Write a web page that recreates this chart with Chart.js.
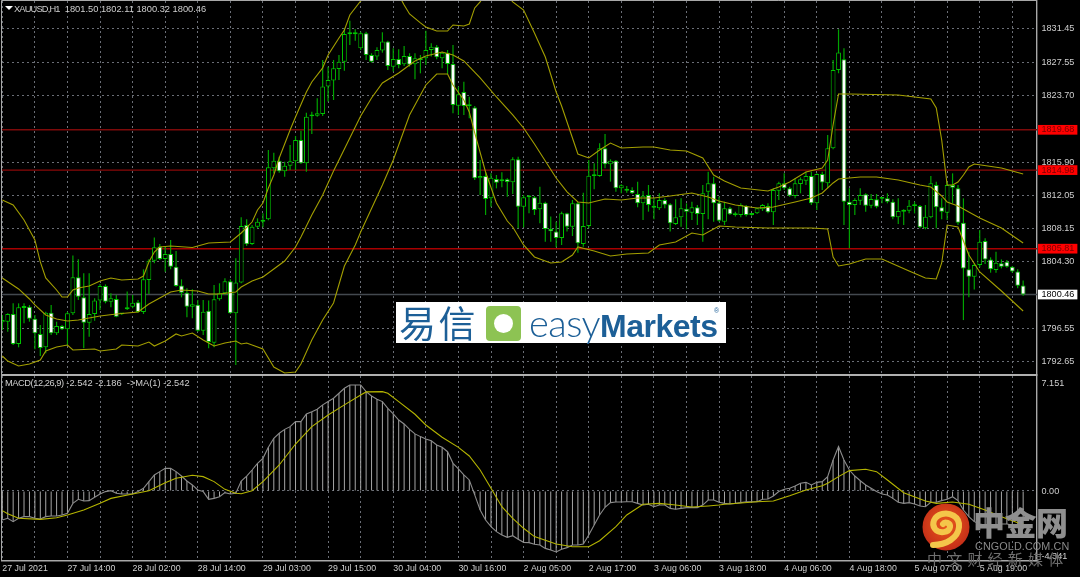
<!DOCTYPE html>
<html><head><meta charset="utf-8">
<style>
html,body{margin:0;padding:0;background:#000;width:1080px;height:577px;overflow:hidden}
#c{position:absolute;left:0;top:0;filter:blur(.3px)}
.t{position:absolute;white-space:pre;font-family:"Liberation Sans",sans-serif}
</style>
<script src="https://cdn.jsdelivr.net/npm/chart.js@4"></script>
</head><body>
<canvas id="c" width="1080" height="577"></canvas>

<div class="t" style="left:5px;top:6px;width:0;height:0;border-left:4.5px solid transparent;border-right:4.5px solid transparent;border-top:4px solid #fff"></div>
<div class="t" style="left:14px;top:3px;font-size:9.3px;line-height:12px;color:#cfcfcf"><span style="letter-spacing:-.85px">XAUUSD,H1</span>  1801.50 1802.11 1800.32 1800.46</div>
<div class="t" style="left:5px;top:377px;font-size:9.3px;line-height:12px;color:#cfcfcf"><span style="letter-spacing:-.45px">MACD(12,26,9)</span> -2.542 -2.186  -&gt;MA(1) -2.542</div>

<div style="position:absolute;left:396px;top:302px;width:330px;height:41px;background:#fff;filter:blur(.3px)">
  <div class="t" style="left:3px;top:-3px;font-family:'Noto Sans CJK SC';font-size:37px;line-height:46px;color:#1c5f97;font-weight:400;letter-spacing:2.500px">易信</div>
  <div style="position:absolute;left:90px;top:4px;width:35px;height:35px;border-radius:4px;background:#8dc353"></div>
  <div style="position:absolute;left:98px;top:12px;width:19px;height:19px;border-radius:50%;background:#fff"></div>
  <div class="t" style="left:133px;top:0;font-family:'Liberation Sans';font-size:32px;line-height:41px;color:#1c5f97;letter-spacing:-.5px"><span style="font-family:Lato;font-weight:300;font-size:38px">easy</span><b style="font-weight:700;font-family:'Liberation Sans'">Markets</b></div>
  <div class="t" style="left:318px;top:5px;font-size:7px;line-height:8px;color:#1c5f97">®</div>
</div>

<svg style="position:absolute;left:922px;top:503px;filter:blur(.3px)" width="48" height="48" viewBox="0 0 48 48">
  <defs><radialGradient id="g" cx=".5" cy=".45" r=".55"><stop offset="0" stop-color="#ea5a1c"/><stop offset="1" stop-color="#c42e18"/></radialGradient></defs>
  <circle cx="24" cy="24" r="23.5" fill="url(#g)"/>
  <path d="M11 42 C24 42 36 35 37 24 C38 13 27 9 20 11 C12 13 9 21 13 26 C17 31 27 30 28 24 C28.500 20 23 18 21 21" fill="none" stroke="#f4c64a" stroke-width="6" stroke-linecap="round"/>
</svg>
<div class="t" style="left:973px;top:500px;font-family:'Noto Sans CJK SC';font-weight:900;font-size:32px;line-height:42px;color:#8f8f8f;letter-spacing:-.5px">中金网</div>
<div class="t" style="left:975px;top:539px;font-size:10.800px;line-height:14px;color:#8a8a8a;letter-spacing:.1px">CNGOLD.COM.CN</div>
<div class="t" style="left:927px;top:550px;font-family:'Noto Sans CJK SC';font-size:15px;line-height:18px;color:#6f6f6f;letter-spacing:5.2px">中文财经新媒体</div>

<script>
const opens=[
1797.22,1797.29,1798.19,1794.69,1798.89,1799.04,1797.64,1795.86,1794.30,1798.34,
1795.93,1796.79,1796.40,1798.27,1802.47,1800.13,1797.18,1798.19,1799.75,1801.46,
1799.63,1799.94,1798.23,1798.73,1799.04,1799.55,1798.42,1802.16,1804.41,1806.05,
1804.61,1805.19,1803.71,1801.50,1800.68,1799.04,1799.28,1796.24,1798.58,1794.84,
1799.90,1800.60,1802.00,1798.27,1801.85,1808.58,1806.36,1808.38,1808.96,1809.24,
1815.19,1816.08,1814.84,1815.50,1816.00,1818.49,1815.77,1821.25,1821.33,1821.53,
1824.72,1825.42,1826.78,1827.63,1830.84,1830.84,1829.19,1830.94,1828.41,1828.22,
1828.92,1829.97,1827.05,1827.94,1827.32,1828.29,1827.32,1827.83,1828.02,1828.99,
1829.38,1828.02,1828.68,1827.36,1822.50,1824.09,1822.54,1822.27,1814.02,1814.29,
1811.69,1813.94,1813.67,1813.90,1813.55,1816.24,1810.71,1811.80,1811.80,1810.40,
1811.18,1808.11,1807.80,1807.06,1809.93,1808.38,1811.10,1806.36,1808.46,1814.29,
1814.29,1817.52,1815.65,1816.08,1812.85,1812.74,1812.66,1812.19,1811.10,1812.07,
1810.79,1810.52,1811.49,1810.99,1808.69,1809.47,1810.48,1810.01,1810.64,1809.86,
1812.46,1813.44,1811.18,1808.96,1810.52,1809.82,1809.74,1810.79,1809.75,1809.93,
1810.40,1810.79,1810.05,1812.58,1813.43,1812.85,1811.96,1813.36,1813.75,1814.30,
1811.10,1814.53,1813.44,1817.52,1826.66,1827.91,1811.29,1810.91,1811.41,1812.15,
1810.83,1811.57,1811.64,1811.68,1811.29,1809.47,1810.25,1810.25,1810.79,1810.79,
1808.18,1809.47,1813.24,1810.63,1810.01,1813.24,1812.85,1808.84,1803.40,1802.54,
1803.90,1806.70,1804.56,1803.32,1804.10,1804.29,1803.71,1803.16,1801.50];
const closes=[
1797.49,1798.19,1794.69,1798.97,1799.12,1797.64,1795.93,1794.22,1798.34,1795.93,
1796.79,1796.40,1798.27,1802.47,1800.21,1797.18,1798.19,1799.75,1801.46,1799.63,
1800.02,1797.88,1798.15,1798.97,1799.51,1798.42,1802.23,1804.41,1805.97,1804.61,
1805.19,1803.71,1801.46,1800.68,1799.04,1799.32,1796.24,1798.46,1794.92,1799.90,
1800.60,1802.00,1798.27,1801.85,1808.46,1806.32,1808.38,1808.96,1809.12,1815.31,
1816.08,1814.84,1815.50,1816.00,1818.49,1815.77,1821.21,1821.33,1821.60,1824.72,
1825.49,1826.86,1827.63,1830.86,1830.88,1830.90,1830.94,1828.41,1827.63,1828.99,
1829.97,1827.13,1827.94,1827.24,1828.29,1827.28,1828.02,1827.94,1828.99,1829.38,
1828.14,1828.68,1827.36,1822.58,1823.82,1822.46,1822.46,1814.02,1814.29,1811.61,
1814.10,1813.51,1813.90,1813.59,1816.24,1810.71,1811.80,1811.96,1810.32,1811.18,
1808.11,1807.83,1807.06,1809.93,1808.38,1811.10,1806.43,1808.46,1814.33,1814.41,
1817.52,1815.65,1816.08,1812.85,1813.20,1812.58,1812.27,1811.10,1812.00,1810.91,
1810.60,1811.49,1810.95,1808.77,1809.47,1810.52,1810.13,1810.64,1809.86,1812.27,
1813.44,1811.10,1809.08,1810.52,1809.82,1809.74,1810.91,1809.74,1809.80,1810.52,
1810.91,1810.05,1812.66,1813.43,1812.85,1811.99,1813.43,1813.90,1814.30,1811.10,
1814.53,1813.52,1817.52,1826.66,1828.69,1811.30,1810.91,1811.49,1812.07,1810.83,
1811.61,1810.71,1811.68,1811.29,1809.47,1810.21,1810.13,1810.83,1810.83,1808.30,
1809.54,1813.43,1810.63,1810.13,1813.24,1812.93,1808.84,1803.51,1802.54,1803.90,
1806.63,1804.56,1803.40,1804.18,1803.71,1803.71,1803.16,1801.49,1800.46];
const highs=[
1798.07,1798.27,1799.43,1799.43,1799.43,1799.24,1798.07,1796.91,1798.46,1799.24,
1797.29,1796.91,1798.46,1805.00,1804.57,1802.93,1802.93,1800.02,1801.69,1801.65,
1800.60,1800.41,1798.27,1800.80,1800.41,1799.82,1803.40,1804.57,1807.10,1806.36,
1806.05,1806.82,1805.54,1802.23,1801.18,1801.07,1799.82,1799.82,1799.75,1801.57,
1801.77,1802.35,1802.23,1804.69,1809.47,1809.24,1808.58,1809.35,1809.94,1817.33,
1817.01,1816.55,1815.96,1817.91,1818.96,1819.58,1821.68,1821.80,1823.35,1827.83,
1827.05,1827.83,1828.41,1831.52,1832.42,1831.41,1831.13,1831.13,1828.61,1829.31,
1831.06,1830.08,1829.19,1829.07,1829.46,1828.61,1828.61,1828.41,1831.25,1829.77,
1829.58,1828.80,1828.99,1829.58,1824.72,1825.30,1823.55,1822.46,1816.16,1814.80,
1814.60,1814.41,1814.72,1814.02,1816.47,1816.55,1812.07,1812.07,1811.96,1813.05,
1811.30,1809.55,1808.96,1810.13,1810.01,1811.49,1811.30,1812.35,1816.16,1815.77,
1818.10,1819.19,1816.24,1816.16,1813.32,1813.12,1812.97,1813.63,1812.54,1813.24,
1811.69,1812.27,1811.69,1811.10,1811.57,1811.69,1811.10,1811.30,1810.91,1813.24,
1814.80,1814.21,1811.88,1811.29,1810.71,1810.13,1811.10,1810.91,1809.86,1810.59,
1811.02,1811.10,1812.85,1813.63,1814.60,1813.04,1814.02,1814.13,1814.80,1814.80,
1814.61,1814.80,1819.08,1827.83,1831.41,1829.19,1812.85,1811.68,1812.85,1812.27,
1812.19,1812.19,1811.80,1812.27,1811.57,1811.68,1810.40,1811.49,1811.29,1810.91,
1810.91,1814.29,1813.63,1811.68,1813.63,1814.60,1813.24,1811.68,1805.46,1804.10,
1807.99,1807.02,1804.80,1805.46,1804.56,1804.49,1803.79,1803.40,1802.11];
const lows=[
1796.32,1796.13,1794.57,1794.30,1797.10,1797.29,1794.07,1793.29,1793.60,1795.74,
1795.74,1796.32,1794.57,1798.07,1799.82,1794.18,1795.54,1797.41,1798.66,1799.43,
1798.97,1797.80,1798.07,1798.66,1798.85,1798.34,1798.19,1800.52,1804.10,1804.49,
1803.13,1803.40,1801.38,1800.13,1797.80,1797.68,1796.13,1795.74,1794.18,1794.30,
1799.75,1800.41,1798.19,1792.24,1801.77,1806.12,1806.24,1808.19,1808.30,1809.12,
1814.60,1814.68,1814.21,1814.99,1814.99,1815.69,1814.80,1819.19,1821.21,1821.29,
1822.97,1823.16,1825.49,1826.58,1829.58,1830.08,1828.99,1827.83,1827.52,1827.83,
1828.68,1826.66,1826.47,1826.86,1827.13,1827.05,1825.57,1826.27,1827.24,1828.22,
1827.91,1826.86,1826.19,1821.60,1821.41,1821.41,1821.02,1813.82,1812.07,1809.74,
1810.71,1812.85,1812.97,1811.88,1812.19,1808.18,1808.30,1809.93,1809.74,1808.77,
1806.63,1806.63,1805.97,1806.24,1807.80,1807.29,1805.34,1806.04,1808.18,1812.74,
1814.21,1815.19,1813.63,1812.46,1812.27,1812.35,1812.19,1810.64,1809.16,1810.13,
1809.23,1810.32,1810.52,1807.80,1808.57,1808.38,1808.07,1809.16,1808.57,1806.63,
1809.23,1808.96,1808.96,1808.57,1809.74,1809.55,1809.47,1809.55,1809.66,1809.86,
1810.21,1809.93,1808.57,1811.49,1812.66,1811.88,1811.68,1812.27,1813.24,1810.91,
1810.33,1812.66,1812.86,1817.41,1826.28,1808.58,1805.85,1809.74,1810.91,1810.13,
1810.52,1810.52,1811.10,1811.10,1809.23,1808.69,1808.57,1809.93,1809.93,1808.18,
1808.07,1809.35,1808.18,1809.23,1809.15,1811.10,1808.57,1797.48,1800.13,1801.06,
1803.63,1804.02,1803.01,1803.01,1803.51,1803.59,1803.01,1801.18,1800.32];

const upperBars=[0,2,4,6,7,8,10,11,12,13,14,16,18,20,22,25,26,27,28,29,31,35,38,42,44,46,47,48,49,50,51,53,54,56,57,59,60,62,63,64,66,68,70,72,74,75,77,78,80,82,83,85,86,87,88,89,92,94,96,98,100,102,103,105,106,108,110,112,114,118,120,123,126,129,131,133,136,141,143,145,148,151,152,153,154,156,165,171,172,173,174,175,176,177,178,179,184,188];
const upperBand=[1811.49,1810.91,1809.16,1806.83,1804.26,1802.39,1800.99,1800.17,1800.17,1800.99,1801.22,1801.46,1802.04,1802.39,1802.16,1802.27,1802.62,1804.26,1805.42,1806.01,1806.12,1805.95,1806.47,1806.59,1807.64,1808.92,1810.32,1811.14,1812.89,1814.41,1816.39,1819.66,1821.18,1824.09,1825.26,1826.90,1828.41,1830.40,1831.33,1833.08,1834.71,1836.00,1836.70,1836.58,1834.25,1833.20,1832.15,1831.68,1831.21,1831.21,1831.91,1831.80,1832.03,1833.90,1834.60,1835.76,1836.23,1834.60,1833.66,1830.98,1828.18,1824.09,1822.46,1818.73,1816.86,1816.39,1817.33,1818.14,1817.56,1817.68,1817.68,1817.33,1817.21,1816.39,1814.41,1813.71,1812.89,1812.54,1813.01,1813.59,1814.76,1815.23,1816.16,1820.24,1823.86,1823.86,1823.74,1823.28,1822.23,1818.49,1813.24,1813.24,1813.59,1814.41,1815.34,1815.69,1815.23,1814.53];
const middleBars=[0,3,5,6,8,10,12,14,18,21,25,27,29,31,33,36,38,40,43,44,46,48,50,52,54,55,57,59,61,64,66,68,70,73,76,78,81,83,85,88,91,94,96,98,102,104,106,108,111,114,117,120,123,127,130,132,135,139,142,146,149,151,153,154,158,161,165,169,171,173,174,176,180,184,188];
const middleBand=[1802.39,1801.11,1799.94,1799.24,1798.07,1797.61,1797.37,1797.49,1797.96,1798.19,1798.42,1799.36,1800.06,1800.76,1800.99,1800.87,1800.52,1800.52,1800.76,1801.34,1802.04,1802.51,1803.44,1804.37,1806.01,1807.17,1809.74,1812.08,1814.88,1818.73,1821.29,1823.39,1825.14,1826.31,1827.71,1828.30,1828.76,1828.41,1827.71,1825.73,1823.51,1821.41,1819.89,1818.03,1814.06,1812.43,1811.26,1811.14,1811.61,1811.49,1811.73,1811.73,1811.96,1812.31,1811.84,1811.38,1810.91,1810.56,1810.68,1811.26,1811.73,1812.31,1813.48,1813.94,1814.18,1814.18,1813.83,1813.24,1813.01,1811.96,1811.26,1810.79,1809.39,1808.22,1806.47];
const lowerBars=[0,1,3,5,7,8,10,12,13,17,18,21,22,25,27,28,30,32,33,35,37,39,41,43,44,45,48,50,52,54,55,57,59,61,63,65,66,70,72,74,75,78,80,82,83,85,86,87,89,91,93,94,96,98,101,103,105,106,109,112,115,119,121,124,127,129,132,135,141,149,152,153,154,156,159,162,167,170,172,173,174,176,178,180,184,188];
const lowerBand=[1793.29,1792.70,1792.12,1792.35,1792.82,1793.87,1794.34,1794.57,1793.99,1794.10,1793.87,1794.10,1794.57,1794.45,1794.92,1794.45,1795.04,1795.86,1795.62,1795.97,1795.16,1794.45,1794.80,1795.04,1794.69,1794.80,1794.10,1792.00,1791.30,1791.42,1792.35,1795.16,1797.49,1799.47,1803.79,1806.24,1807.76,1813.24,1816.16,1819.66,1821.41,1824.91,1826.19,1826.19,1824.91,1823.16,1821.76,1819.31,1814.76,1811.14,1809.04,1808.34,1806.24,1804.84,1804.14,1804.26,1805.07,1806.01,1805.54,1804.96,1805.19,1805.31,1806.24,1806.59,1807.64,1807.41,1808.46,1808.34,1808.22,1808.22,1808.11,1804.84,1803.79,1804.02,1804.61,1804.61,1803.21,1802.39,1802.27,1804.14,1808.57,1808.34,1805.07,1803.09,1800.87,1798.54];

const macd=[
-1.92,-1.81,-2.03,-1.81,-1.70,-1.70,-1.81,-1.85,-1.70,-1.66,
-1.66,-1.59,-1.48,-.82,-.55,-.66,-.64,-.42,-.20,-.04,
.02,-.15,-.20,-.20,-.20,-.04,.18,.62,1.06,1.28,
1.50,1.50,1.28,.99,.66,.40,.07,-.04,-.55,-.49,
-.38,-.11,-.20,-.15,.66,.99,1.39,1.83,2.16,2.89,
3.49,3.82,4.08,4.26,4.59,4.59,5.10,5.25,5.41,5.70,
5.92,6.14,6.47,6.80,7.02,7.02,7.02,6.58,6.29,6.07,
5.92,5.47,5.10,4.70,4.44,4.08,3.78,3.60,3.44,3.33,
3.05,2.89,2.60,1.83,1.46,1.06,.73,-.26,-1.26,-1.92,
-2.36,-2.69,-2.91,-3.07,-2.96,-3.20,-3.40,-3.42,-3.53,-3.58,
-3.80,-3.91,-4.04,-3.86,-3.75,-3.58,-3.58,-3.51,-2.91,-2.25,
-1.59,-1.08,-.77,-.73,-.73,-.71,-.71,-.82,-.93,-.88,
-1.04,-.93,-.93,-1.15,-1.21,-1.15,-1.10,-1.10,-1.10,-.93,
-.60,-.60,-.75,-.82,-.86,-.82,-.77,-.71,-.71,-.71,
-.55,-.53,-.33,-.04,.11,.18,.33,.51,.57,.40,
.57,.62,.95,2.05,2.94,2.05,1.39,.99,.68,.40,
.18,-.04,-.20,-.26,-.49,-.75,-.82,-.77,-.86,-.99,
-1.04,-.75,-.75,-.64,-.55,-.38,-.64,-1.26,-1.70,-2.03,
-2.19,-2.25,-2.25,-2.25,-2.19,-2.19,-2.25,-2.41,-2.54];
const signalBars=[0,1,3,7,10,12,15,18,20,24,27,30,32,35,37,39,41,43,44,46,48,51,54,57,60,63,66,67,70,71,73,76,78,81,84,86,88,90,92,94,96,98,102,105,108,110,113,115,118,121,124,127,130,132,133,136,139,142,145,148,151,152,154,156,159,161,163,166,170,172,175,178,181,184,187,188];
const signalLine=[-1.30,-1.50,-1.81,-1.88,-1.77,-1.59,-1.26,-.82,-.49,-.20,.02,.55,.84,1.04,.95,.62,.11,-.15,-.18,.02,.62,1.72,3.11,4.26,5.03,5.70,6.36,6.56,6.58,6.47,5.92,5.08,4.37,3.56,2.89,2.32,1.39,.18,-1.04,-1.81,-2.47,-3.02,-3.51,-3.69,-3.69,-3.29,-2.36,-1.59,-.88,-.82,-.93,-1.06,-.99,-.93,-.88,-.80,-.71,-.66,-.31,.07,.35,.51,.95,1.35,1.44,1.28,.73,-.11,-.66,-.82,-.73,-.88,-1.26,-1.70,-2.10,-2.19];

const priceTicks=[1831.45,1827.55,1823.70,1819.80,1815.90,1812.05,1808.15,1804.30,1800.45,1796.55,1792.65];
const levelTags=[1819.68,1814.98,1805.81];
const lastPrice=1800.46;
const macdTicks=[7.151,0,-4.341];
const timeLabels=["27 Jul 2021","27 Jul 14:00","28 Jul 02:00","28 Jul 14:00","29 Jul 03:00","29 Jul 15:00","30 Jul 04:00","30 Jul 16:00","2 Aug 05:00","2 Aug 17:00","3 Aug 06:00","3 Aug 18:00","4 Aug 06:00","4 Aug 18:00","5 Aug 07:00","5 Aug 19:00"];
const gridBars=[0,6,12,18,24,30,36,42,48,54,60,66,72,78,84,90,96,102,108,114,120,126,132,138,144,150,156,162,168,174,180,186];

const X_MIN=-0.055, X_MAX=190.55;
const pts=(b,v)=>b.map((x,i)=>({x,y:v[i]}));
const GREEN='#00a400', EDGE='#00c400', GRID='#6a6e76', TXT='#cfcfcf', FONT='"Liberation Sans",sans-serif';
const bars=opens.map((_,i)=>i);
const lineDS=(data,color,yAxisID,order,w)=>({type:'line',data,borderColor:color,borderWidth:w||1.1,pointRadius:0,tension:0,yAxisID,xAxisID:'x',order});
const hiddenTick=v=>v===1819.80||v===1800.45;
const noPad=s=>{s.paddingTop=0;s.paddingBottom=0;s.paddingLeft=0;s.paddingRight=0;};

const frame={id:'frame',afterDraw(ch){
  const c=ch.ctx,a=ch.chartArea,y=ch.scales.y;
  c.save();c.strokeStyle='#a8a8a8';c.lineWidth=1;
  c.beginPath();c.moveTo(a.left-.5,a.bottom);c.lineTo(a.left-.5,a.top-.5);c.lineTo(a.right,a.top-.5);c.stroke();
  c.strokeStyle='#b0b0b0';c.lineWidth=2.2;
  c.beginPath();c.moveTo(a.left,y.bottom);c.lineTo(a.right,y.bottom);c.stroke();
  c.restore();
}};

new Chart(document.getElementById('c'),{
  type:'bar',
  plugins:[frame],
  data:{datasets:[
    lineDS(pts(upperBars,upperBand),'#a39f00','y',0),
    lineDS(pts(middleBars,middleBand),'#a39f00','y',0),
    lineDS(pts(lowerBars,lowerBand),'#a39f00','y',0),
    {label:'bodies',data:bars.map(i=>({x:i,y:[opens[i],closes[i]]})),barThickness:4.8,borderWidth:1,minBarLength:1.8,grouped:false,inflateAmount:0,
     borderSkipped:false,borderColor:EDGE,backgroundColor:c=>closes[c.dataIndex]<opens[c.dataIndex]?'#ffffff':'#000000',yAxisID:'y',xAxisID:'x',order:1},
    {label:'wicks',data:bars.map(i=>({x:i,y:[lows[i],highs[i]]})),barThickness:1.2,borderWidth:0,grouped:false,inflateAmount:0,backgroundColor:GREEN,yAxisID:'y',xAxisID:'x',order:2},
    lineDS([{x:X_MIN,y:levelTags[0]},{x:X_MAX,y:levelTags[0]}],'#7d0a0a','y',3,1.4),
    lineDS([{x:X_MIN,y:levelTags[1]},{x:X_MAX,y:levelTags[1]}],'#8a0808','y',3,1.4),
    lineDS([{x:X_MIN,y:levelTags[2]},{x:X_MAX,y:levelTags[2]}],'#a80000','y',3,1.4),
    lineDS([{x:X_MIN,y:lastPrice},{x:X_MAX,y:lastPrice}],'#43494f','y',3,1.4),
    lineDS(pts(bars,macd),'#8c8c8c','y2',1),
    lineDS(pts(signalBars,signalLine),'#b4b400','y2',0),
    {label:'hist',data:bars.map(i=>({x:i,y:macd[i]})),barThickness:1,borderWidth:0,grouped:false,inflateAmount:0,backgroundColor:'#a6a6a6',yAxisID:'y2',xAxisID:'x',order:2}
  ]},
  options:{
    responsive:false,animation:false,devicePixelRatio:1,
    layout:{padding:{left:2,top:1,right:0,bottom:0}},
    plugins:{legend:{display:false},tooltip:{enabled:false}},
    scales:{
      x:{type:'linear',position:'bottom',min:X_MIN,max:X_MAX,offset:false,
        afterBuildTicks:s=>{s.ticks=gridBars.map(value=>({value}));},
        afterFit:s=>{s.height=16;noPad(s);},
        grid:{offset:false,color:GRID,drawTicks:false,lineWidth:1},
        border:{color:'#a8a8a8',dash:[2,3],width:1.4},
        ticks:{autoSkip:false,maxRotation:0,align:'start',padding:2,color:TXT,font:{family:FONT,size:8.8},
          callback:v=>v%12===0?timeLabels[v/12]:''}},
      y:{type:'linear',position:'right',stack:'panes',stackWeight:374,min:1791.07,max:1834.71,
        afterBuildTicks:s=>{s.ticks=[...priceTicks,...levelTags,lastPrice].map(value=>({value}));},
        afterFit:s=>{s.width=43;noPad(s);},
        grid:{drawTicks:false,lineWidth:1,color:c=>(priceTicks.includes(c.tick.value)&&!hiddenTick(c.tick.value))?GRID:'rgba(0,0,0,0)'},
        border:{color:'#a8a8a8',dash:[2,3],width:1.4},
        ticks:{autoSkip:false,padding:4.5,font:{family:FONT,size:9.1,lineHeight:1},
          color:c=>levelTags.includes(c.tick.value)?'#7a0000':c.tick.value===lastPrice?'#000':TXT,
          callback:v=>hiddenTick(v)?'':v.toFixed(2),
          showLabelBackdrop:c=>levelTags.includes(c.tick.value)||c.tick.value===lastPrice,
          backdropColor:c=>levelTags.includes(c.tick.value)?'#ff0000':'#ffffff',
          backdropPadding:{left:3.5,right:3,top:.3,bottom:.3}}},
      y2:{type:'linear',position:'right',stack:'panes',stackWeight:186,min:-4.636,max:7.68,
        afterBuildTicks:s=>{s.ticks=macdTicks.map(value=>({value}));},
        afterFit:s=>{s.width=43;noPad(s);},
        grid:{drawTicks:false,lineWidth:1,color:c=>c.tick.value===0?GRID:'rgba(0,0,0,0)'},
        border:{color:'#a8a8a8',dash:[2,3],width:1.4},
        ticks:{autoSkip:false,padding:4.5,color:TXT,font:{family:FONT,size:9.1,lineHeight:1},
          callback:v=>v===0?'0.00':v.toFixed(3)}}
    }
  }
});
</script>
</body></html>
